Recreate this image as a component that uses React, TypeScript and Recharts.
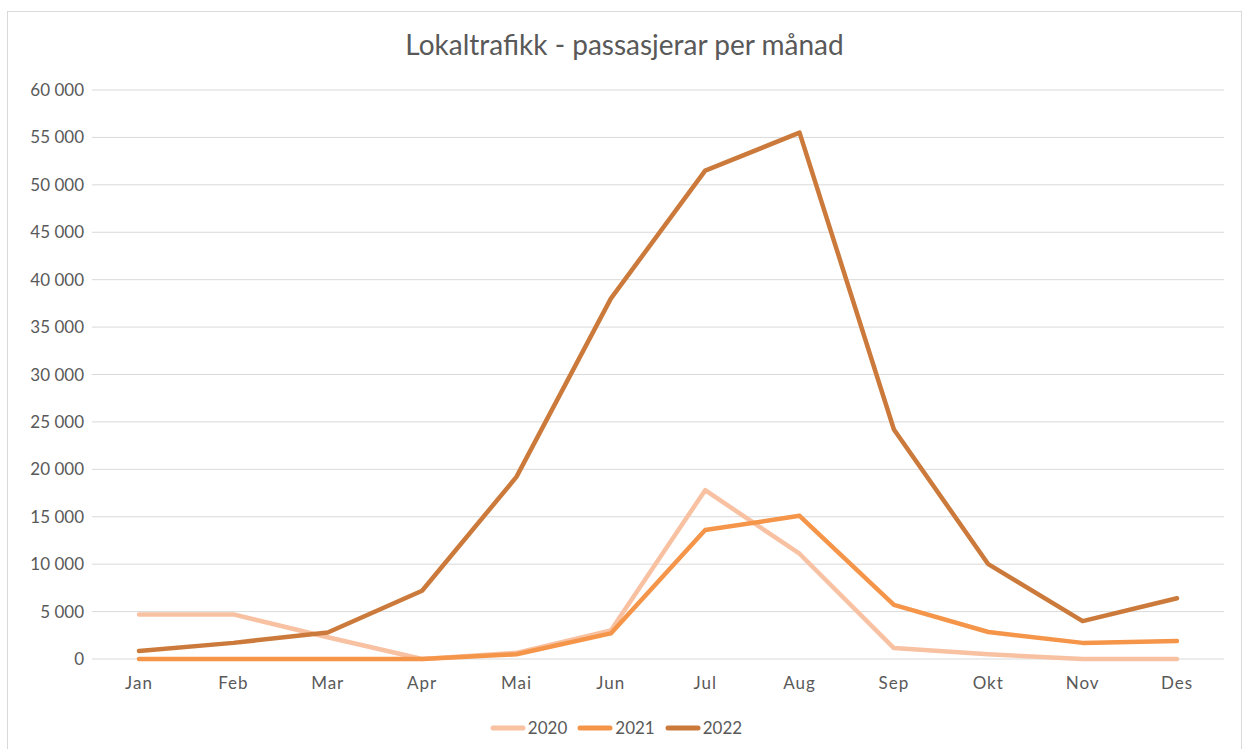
import React from 'react';
import { LineChart, Line, XAxis, YAxis, CartesianGrid, Legend } from 'recharts';

const MONTHS = ['Jan', 'Feb', 'Mar', 'Apr', 'Mai', 'Jun', 'Jul', 'Aug', 'Sep', 'Okt', 'Nov', 'Des'];
const Y2020 = [4700, 4700, 2300, 0, 650, 3000, 17800, 11100, 1150, 500, 0, 0];
const Y2021 = [0, 0, 0, 0, 500, 2700, 13600, 15100, 5700, 2850, 1700, 1900];
const Y2022 = [850, 1700, 2800, 7200, 19200, 38000, 51500, 55500, 24200, 10000, 4000, 6400];
const Y_TICKS = [0, 5000, 10000, 15000, 20000, 25000, 30000, 35000, 40000, 45000, 50000, 55000, 60000];

const SERIES = [
  { key: 'y2020', name: '2020', color: '#F8C1A2' },
  { key: 'y2021', name: '2021', color: '#F5954A' },
  { key: 'y2022', name: '2022', color: '#CB7A3B' },
];

const data = MONTHS.map((m, i) => ({ month: m, y2020: Y2020[i], y2021: Y2021[i], y2022: Y2022[i] }));

const FONT = 'Lato, "Open Sans", sans-serif';
const TEXT = '#595959';

const fmt = (v: number) => (v === 0 ? '0' : v.toLocaleString('en-US').replace(/,/g, ' '));

const LegendContent: React.FC = () => (
  <div style={{ display: 'flex', justifyContent: 'center', gap: 10, fontFamily: FONT, fontSize: 17, color: TEXT }}>
    {SERIES.map((s) => (
      <div key={s.key} style={{ display: 'flex', alignItems: 'center' }}>
        <svg width={36} height={10} style={{ marginRight: 2 }}>
          <line x1={3} y1={5} x2={33} y2={5} stroke={s.color} strokeWidth={5} strokeLinecap="round" />
        </svg>
        <span>{s.name}</span>
      </div>
    ))}
  </div>
);

export default function App() {
  return (
    <div
      style={{
        position: 'absolute',
        left: 7,
        top: 11,
        width: 1233,
        height: 738,
        border: '1px solid #d9d9d9',
        background: '#fff',
      }}
    >
      <div
        style={{
          position: 'absolute',
          top: 15,
          width: '100%',
          textAlign: 'center',
          fontFamily: FONT,
          fontSize: 28,
          color: TEXT,
        }}
      >
        Lokaltrafikk - passasjerar per månad
      </div>
      <LineChart width={1233} height={738} data={data} margin={{ top: 78, right: 17, bottom: 20, left: 0 }}>
        <CartesianGrid vertical={false} stroke="#d9d9d9" strokeWidth={1} />
        <XAxis
          dataKey="month"
          axisLine={false}
          tickLine={false}
          tickMargin={12}
          padding={{ left: 47, right: 47 }}
          height={50}
          tick={{ fill: TEXT, fontSize: 17, fontFamily: FONT, letterSpacing: 1 }}
        />
        <YAxis
          width={84}
          domain={[0, 60000]}
          ticks={Y_TICKS}
          axisLine={false}
          tickLine={false}
          tickFormatter={fmt}
          tick={{ fill: TEXT, fontSize: 17, fontFamily: FONT }}
        />
        <Legend verticalAlign="bottom" content={<LegendContent />} wrapperStyle={{ bottom: 12 }} />
        {SERIES.map((s) => (
          <Line
            key={s.key}
            dataKey={s.key}
            name={s.name}
            stroke={s.color}
            strokeWidth={4.5}
            dot={false}
            strokeLinejoin="round"
            strokeLinecap="round"
            isAnimationActive={false}
          />
        ))}
      </LineChart>
    </div>
  );
}
